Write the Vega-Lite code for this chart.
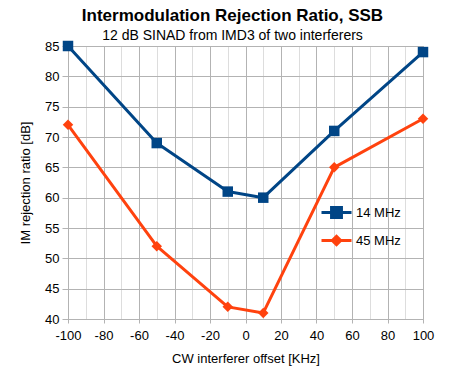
{
  "$schema": "https://vega.github.io/schema/vega-lite/v6.json",
  "width": 355,
  "height": 273,
  "autosize": "none",
  "padding": {"left": 68, "top": 46, "right": 42, "bottom": 50},
  "background": "white",
  "title": {
    "text": "Intermodulation Rejection Ratio, SSB",
    "subtitle": "12 dB SINAD from IMD3 of two interferers",
    "anchor": "middle",
    "dx": -13,
    "font": "Liberation Sans",
    "fontSize": 17,
    "fontWeight": "bold",
    "color": "#000000",
    "subtitleFont": "Liberation Sans",
    "subtitleFontSize": 14,
    "subtitleColor": "#000000",
    "subtitlePadding": 4,
    "offset": -4
  },
  "config": {
    "font": "Liberation Sans",
    "view": {"stroke": "#b3b3b3", "strokeWidth": 1},
    "axis": {
      "labelFont": "Liberation Sans",
      "labelFontSize": 13,
      "labelColor": "#000000",
      "titleFont": "Liberation Sans",
      "titleFontSize": 13,
      "titleFontWeight": "normal",
      "titleColor": "#000000",
      "domainColor": "#b3b3b3",
      "tickColor": "#b3b3b3",
      "gridColor": "#b3b3b3",
      "gridOpacity": 1
    }
  },
  "data": {
    "values": [
      {"offset": -100, "ratio": 85, "series": "14 MHz"},
      {"offset": -50, "ratio": 69, "series": "14 MHz"},
      {"offset": -10, "ratio": 61, "series": "14 MHz"},
      {"offset": 10, "ratio": 60, "series": "14 MHz"},
      {"offset": 50, "ratio": 71, "series": "14 MHz"},
      {"offset": 100, "ratio": 84, "series": "14 MHz"},
      {"offset": -100, "ratio": 72, "series": "45 MHz"},
      {"offset": -50, "ratio": 52, "series": "45 MHz"},
      {"offset": -10, "ratio": 42, "series": "45 MHz"},
      {"offset": 10, "ratio": 41, "series": "45 MHz"},
      {"offset": 50, "ratio": 65, "series": "45 MHz"},
      {"offset": 100, "ratio": 73, "series": "45 MHz"}
    ]
  },
  "encoding": {
    "x": {
      "field": "offset",
      "type": "quantitative",
      "scale": {"domain": [-100, 100], "nice": false, "zero": false},
      "axis": {
        "title": "CW interferer offset [KHz]",
        "values": [-100, -90, -80, -70, -60, -50, -40, -30, -20, -10, 0, 10, 20, 30, 40, 50, 60, 70, 80, 90, 100],
        "labelExpr": "datum.value % 20 === 0 ? '' + datum.value : ''",
        "gridColor": {"condition": {"test": "datum.value % 20 !== 0", "value": "#dddddd"}, "value": "#b3b3b3"},
        "tickOpacity": {"condition": {"test": "datum.value % 20 !== 0", "value": 0}, "value": 1},
        "tickSize": 4,
        "labelPadding": 6,
        "titlePadding": 10,
        "labelFlush": false
      }
    },
    "y": {
      "field": "ratio",
      "type": "quantitative",
      "scale": {"domain": [40, 85], "nice": false, "zero": false},
      "axis": {
        "title": "IM rejection ratio [dB]",
        "values": [40, 45, 50, 55, 60, 65, 70, 75, 80, 85],
        "tickSize": 6,
        "labelPadding": 3,
        "titlePadding": 12,
        "labelFlush": false
      }
    },
    "color": {
      "field": "series",
      "type": "nominal",
      "scale": {"domain": ["14 MHz", "45 MHz"], "range": ["#004586", "#ff420e"]},
      "legend": {
        "title": null,
        "orient": "none",
        "legendX": 252,
        "legendY": 150,
        "padding": 0,
        "rowPadding": 0,
        "symbolSize": 900,
        "labelOffset": 3,
        "labelFont": "Liberation Sans",
        "labelFontSize": 13,
        "labelColor": "#000000",
        "encode": {
          "symbols": {
            "update": {
              "shape": {"signal": "datum.value === '14 MHz' ? 'M-1,0H1M-0.33,-0.33H0.33V0.33H-0.33Z' : 'M-1,0H1M0,-0.28L0.28,0L0,0.28L-0.28,0Z'"},
              "fill": {"scale": "color", "field": "value"},
              "stroke": {"scale": "color", "field": "value"},
              "strokeWidth": {"value": 3},
              "fillOpacity": {"value": 1}
            }
          }
        }
      }
    }
  },
  "layer": [
    {
      "mark": {"type": "line", "strokeWidth": 3, "strokeJoin": "round"}
    },
    {
      "transform": [{"filter": "datum.series === '14 MHz'"}],
      "mark": {"type": "point", "filled": true, "opacity": 1, "size": 110, "shape": "square"}
    },
    {
      "transform": [{"filter": "datum.series === '45 MHz'"}],
      "mark": {"type": "point", "filled": true, "opacity": 1, "size": 110, "shape": "diamond"}
    }
  ]
}
